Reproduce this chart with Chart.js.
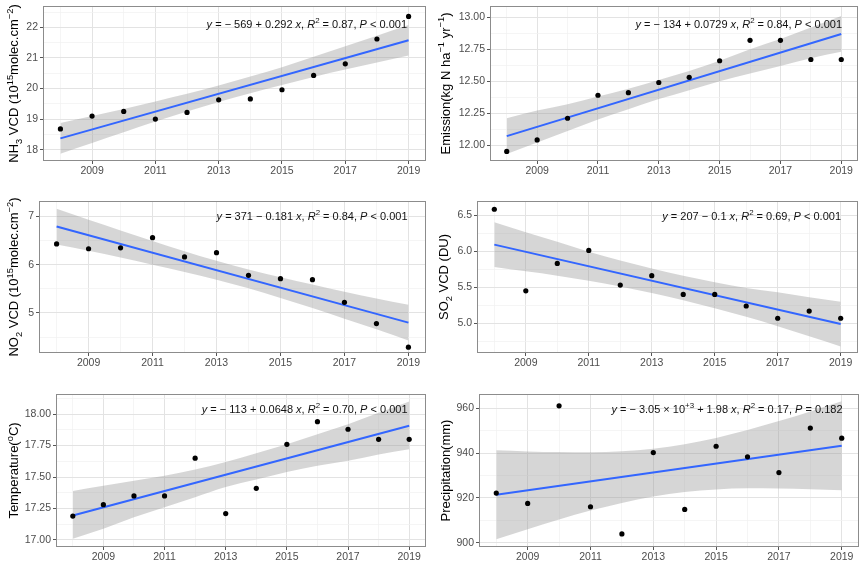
<!DOCTYPE html>
<html>
<head>
<meta charset="utf-8">
<script src="https://cdn.jsdelivr.net/npm/chart.js@4.4.1/dist/chart.umd.min.js"></script>
<style>
  body { margin: 0; background: #fff; }
  #wrap { position: relative; width: 865px; height: 564px; }
  canvas { position: absolute; }
</style>
</head>
<body>
<div id="wrap"></div>
<script>
const YEARS = [2008, 2009, 2010, 2011, 2012, 2013, 2014, 2015, 2016, 2017, 2018, 2019];
const FIT_X = [2008, 2019];
const X_MAJOR = [2009, 2011, 2013, 2015, 2017, 2019];
const X_MINOR = [2008, 2010, 2012, 2014, 2016, 2018];

const NH3 = [18.68, 19.10, 19.25, 19.00, 19.22, 19.63, 19.66, 19.96, 20.43, 20.81, 21.62, 22.36];
const NH3_FIT = [18.37, 21.58];
const NH3_UPPER = [18.87, 19.10, 19.33, 19.58, 19.83, 20.10, 20.39, 20.70, 21.04, 21.38, 21.73, 22.08];
const NH3_LOWER = [17.87, 18.22, 18.57, 18.92, 19.25, 19.56, 19.85, 20.12, 20.38, 20.62, 20.85, 21.08];

const EMIS = [11.95, 12.04, 12.21, 12.39, 12.41, 12.49, 12.53, 12.66, 12.82, 12.82, 12.67, 12.67];
const EMIS_FIT = [12.07, 12.87];
const EMIS_UPPER = [12.21, 12.27, 12.32, 12.38, 12.44, 12.51, 12.58, 12.66, 12.75, 12.83, 12.92, 13.01];
const EMIS_LOWER = [11.93, 12.02, 12.11, 12.20, 12.28, 12.36, 12.43, 12.50, 12.56, 12.62, 12.68, 12.73];

const NO2 = [6.43, 6.33, 6.35, 6.56, 6.16, 6.25, 5.78, 5.71, 5.69, 5.22, 4.78, 4.29];
const NO2_FIT = [6.79, 4.80];
const NO2_UPPER = [7.16, 6.93, 6.71, 6.49, 6.28, 6.08, 5.90, 5.74, 5.59, 5.44, 5.30, 5.17];
const NO2_LOWER = [6.42, 6.29, 6.15, 6.00, 5.85, 5.69, 5.51, 5.31, 5.10, 4.88, 4.66, 4.43];

const SO2 = [6.58, 5.45, 5.83, 6.01, 5.53, 5.66, 5.40, 5.40, 5.24, 5.07, 5.17, 5.07];
const SO2_FIT = [6.09, 4.99];
const SO2_UPPER = [6.40, 6.26, 6.13, 5.99, 5.87, 5.76, 5.66, 5.57, 5.49, 5.43, 5.36, 5.30];
const SO2_LOWER = [5.78, 5.72, 5.66, 5.59, 5.51, 5.42, 5.32, 5.21, 5.09, 4.96, 4.82, 4.68];

const TEMP = [17.19, 17.28, 17.35, 17.35, 17.65, 17.21, 17.41, 17.76, 17.94, 17.88, 17.80, 17.80];
const TEMP_FIT = [17.195, 17.908];
const TEMP_UPPER = [17.39, 17.43, 17.47, 17.51, 17.56, 17.62, 17.69, 17.76, 17.84, 17.92, 18.01, 18.10];
const TEMP_LOWER = [17.01, 17.09, 17.18, 17.26, 17.34, 17.42, 17.48, 17.54, 17.59, 17.63, 17.68, 17.72];

const PRECIP = [922.2, 917.6, 961.0, 916.1, 904.0, 940.2, 914.9, 943.0, 938.3, 931.3, 951.1, 946.6];
const PRECIP_FIT = [921.4, 943.2];
const PRECIP_UPPER = [941.2, 940.7, 940.4, 940.3, 940.8, 941.9, 943.9, 946.7, 950.2, 954.2, 958.5, 963.0];
const PRECIP_LOWER = [901.6, 906.1, 910.4, 914.4, 917.8, 920.7, 922.7, 923.8, 924.3, 924.2, 923.9, 923.4];

// rich text segments: [text, style] style: i = italic, sup, sub
const PANELS = [
  {
    box: [0, 0, 430, 185], area: [43, 6, 428, 161],
    yRange: [17.63, 22.70], yMajor: [18, 19, 20, 21, 22], yMinor: [18.5, 19.5, 20.5, 21.5, 22.5], dec: 0,
    values: NH3, fit: NH3_FIT, upper: NH3_UPPER, lower: NH3_LOWER,
    titleX: 13.5,
    title: [["NH"], ["3", "sub"], [" VCD (10"], ["15", "sup"], ["molec.cm"], ["\u22122", "sup"], [")"]],
    eqPos: [407, 28],
    eq: [["y", "i"], [" = \u2212 569 + 0.292 "], ["x", "i"], [", "], ["R", "i"], ["2", "sup"], [" = 0.87, "], ["P", "i"], [" < 0.001"]],
  },
  {
    box: [430, 0, 435, 185], area: [490, 6, 858, 161],
    yRange: [11.875, 13.089], yMajor: [12, 12.25, 12.5, 12.75, 13], yMinor: [12.125, 12.375, 12.625, 12.875], dec: 2,
    values: EMIS, fit: EMIS_FIT, upper: EMIS_UPPER, lower: EMIS_LOWER,
    titleX: 445,
    title: [["Emission(kg N ha"], ["\u22121", "sup"], [" yr"], ["\u22121", "sup"], [")"]],
    eqPos: [842, 28],
    eq: [["y", "i"], [" = \u2212 134 + 0.0729 "], ["x", "i"], [", "], ["R", "i"], ["2", "sup"], [" = 0.84, "], ["P", "i"], [" < 0.001"]],
  },
  {
    box: [0, 185, 430, 190], area: [39, 201, 428, 353],
    yRange: [4.17, 7.32], yMajor: [5, 6, 7], yMinor: [4.5, 5.5, 6.5], dec: 0,
    values: NO2, fit: NO2_FIT, upper: NO2_UPPER, lower: NO2_LOWER,
    titleX: 13.5,
    title: [["NO"], ["2", "sub"], [" VCD (10"], ["15", "sup"], ["molec.cm"], ["\u22122", "sup"], [")"]],
    eqPos: [407.5, 220],
    eq: [["y", "i"], [" = 371 \u2212 0.181 "], ["x", "i"], [", "], ["R", "i"], ["2", "sup"], [" = 0.84, "], ["P", "i"], [" < 0.001"]],
  },
  {
    box: [430, 185, 435, 190], area: [477, 201, 858, 353],
    yRange: [4.589, 6.694], yMajor: [5, 5.5, 6, 6.5], yMinor: [4.75, 5.25, 5.75, 6.25], dec: 1,
    values: SO2, fit: SO2_FIT, upper: SO2_UPPER, lower: SO2_LOWER,
    titleX: 443.5,
    title: [["SO"], ["2", "sub"], [" VCD (DU)"]],
    eqPos: [841, 220],
    eq: [["y", "i"], [" = 207 \u2212 0.1 "], ["x", "i"], [", "], ["R", "i"], ["2", "sup"], [" = 0.69, "], ["P", "i"], [" < 0.001"]],
  },
  {
    box: [0, 375, 430, 189], area: [56, 394, 428, 547],
    yRange: [16.944, 18.16], yMajor: [17, 17.25, 17.5, 17.75, 18], yMinor: [17.125, 17.375, 17.625, 17.875, 18.125], dec: 2,
    values: TEMP, fit: TEMP_FIT, upper: TEMP_UPPER, lower: TEMP_LOWER,
    titleX: 13.5,
    title: [["Temperature("], ["o", "sup"], ["C)"]],
    eqPos: [407.5, 412.5],
    eq: [["y", "i"], [" = \u2212 113 + 0.0648 "], ["x", "i"], [", "], ["R", "i"], ["2", "sup"], [" = 0.70, "], ["P", "i"], [" < 0.001"]],
  },
  {
    box: [430, 375, 435, 189], area: [479, 394, 859, 547],
    yRange: [898.2, 966.25], yMajor: [900, 920, 940, 960], yMinor: [910, 930, 950], dec: 0,
    values: PRECIP, fit: PRECIP_FIT, upper: PRECIP_UPPER, lower: PRECIP_LOWER,
    titleX: 445,
    title: [["Precipitation(mm)"]],
    eqPos: [842.5, 412.5],
    eq: [["y", "i"], [" = \u2212 3.05 \u00d7 10"], ["+3", "sup"], [" + 1.98 "], ["x", "i"], [", "], ["R", "i"], ["2", "sup"], [" = 0.17, "], ["P", "i"], [" = 0.182"]],
  },
];

const FONT = '"Liberation Sans", Arial, sans-serif';

function segFont(style, size) {
  const sz = style === "sup" || style === "sub" ? size * 0.72 : size;
  return (style === "i" ? "italic " : "") + sz + "px " + FONT;
}

function richWidth(ctx, segs, size) {
  let w = 0;
  for (const [t, s] of segs) {
    ctx.font = segFont(s, size);
    w += ctx.measureText(t).width;
  }
  return w;
}

function drawRich(ctx, segs, size, x, y) {
  ctx.textAlign = "left";
  ctx.textBaseline = "alphabetic";
  let cx = x;
  for (const [t, s] of segs) {
    ctx.font = segFont(s, size);
    const dy = s === "sup" ? -size * 0.42 : s === "sub" ? size * 0.28 : 0;
    ctx.fillText(t, cx, y + dy);
    cx += ctx.measureText(t).width;
  }
}

function near(list, v) {
  return list.some((m) => Math.abs(m - v) < 1e-6);
}

function makePanel(p, idx) {
  const [bx, by, bw, bh] = p.box;
  const [L, T, R, B] = p.area;
  const canvas = document.createElement("canvas");
  canvas.width = bw;
  canvas.height = bh;
  canvas.style.left = bx + "px";
  canvas.style.top = by + "px";
  canvas.style.width = bw + "px";
  canvas.style.height = bh + "px";
  document.getElementById("wrap").appendChild(canvas);

  const decor = {
    id: "decor" + idx,
    afterDraw(chart) {
      const ctx = chart.ctx;
      const a = chart.chartArea;
      ctx.save();
      ctx.strokeStyle = "#8c8c8c";
      ctx.lineWidth = 1;
      ctx.strokeRect(a.left + 0.5, a.top + 0.5, a.right - a.left - 1, a.bottom - a.top - 1);

      ctx.fillStyle = "#111";
      const ew = richWidth(ctx, p.eq, 11);
      drawRich(ctx, p.eq, 11, p.eqPos[0] - bx - ew, p.eqPos[1] - by);

      const tw = richWidth(ctx, p.title, 13);
      ctx.translate(p.titleX - bx + 4.5, (a.top + a.bottom) / 2);
      ctx.rotate(-Math.PI / 2);
      ctx.fillStyle = "#000";
      drawRich(ctx, p.title, 13, -tw / 2, 0);
      ctx.restore();
    },
  };

  const xTicks = [...X_MINOR, ...X_MAJOR].sort((a, b) => a - b);
  const yTicks = [...p.yMinor, ...p.yMajor].sort((a, b) => a - b);

  const gridOpts = (majors) => ({
    color: (c) => (c.tick && near(majors, c.tick.value) ? "#e3e3e3" : "#f0f0f0"),
    lineWidth: (c) => (c.tick && near(majors, c.tick.value) ? 1 : 0.7),
    tickColor: (c) => (c.tick && near(majors, c.tick.value) ? "#555" : "rgba(0,0,0,0)"),
    tickLength: 3,
    drawTicks: true,
  });

  new Chart(canvas, {
    type: "scatter",
    data: {
      datasets: [
        {
          data: YEARS.map((x, i) => ({ x, y: p.values[i] })),
          backgroundColor: "#000",
          borderWidth: 0,
          pointRadius: 2.6,
          clip: false,
          order: 0,
        },
        {
          data: FIT_X.map((x, i) => ({ x, y: p.fit[i] })),
          showLine: true,
          borderColor: "#3366ff",
          borderWidth: 2,
          pointRadius: 0,
          order: 1,
        },
        {
          data: YEARS.map((x, i) => ({ x, y: p.upper[i] })),
          showLine: true,
          borderWidth: 0,
          borderColor: "rgba(0,0,0,0)",
          pointRadius: 0,
          cubicInterpolationMode: "monotone",
          order: 2,
        },
        {
          data: YEARS.map((x, i) => ({ x, y: p.lower[i] })),
          showLine: true,
          borderWidth: 0,
          borderColor: "rgba(0,0,0,0)",
          backgroundColor: "rgba(153,153,153,0.4)",
          fill: "-1",
          pointRadius: 0,
          cubicInterpolationMode: "monotone",
          order: 3,
        },
      ],
    },
    options: {
      animation: false,
      responsive: false,
      devicePixelRatio: 1,
      events: [],
      layout: { padding: { left: 0, top: T - by, right: bx + bw - R, bottom: 0 } },
      plugins: { legend: { display: false }, tooltip: { enabled: false } },
      scales: {
        x: {
          type: "linear",
          min: 2007.45,
          max: 2019.55,
          border: { display: false },
          grid: gridOpts(X_MAJOR),
          afterBuildTicks: (s) => { s.ticks = xTicks.map((v) => ({ value: v })); },
          afterFit: (s) => {
            s.height = by + bh - B;
            s.paddingLeft = 0; s.paddingRight = 0;
          },
          ticks: {
            autoSkip: false,
            maxRotation: 0,
            padding: 1,
            color: "#4d4d4d",
            font: { family: FONT, size: 10.5 },
            callback: (v) => (near(X_MAJOR, v) ? String(v) : ""),
          },
        },
        y: {
          type: "linear",
          min: p.yRange[0],
          max: p.yRange[1],
          border: { display: false },
          grid: gridOpts(p.yMajor),
          afterBuildTicks: (s) => { s.ticks = yTicks.map((v) => ({ value: v })); },
          afterFit: (s) => {
            s.width = L - bx;
            s.paddingTop = 0; s.paddingBottom = 0;
          },
          ticks: {
            autoSkip: false,
            padding: 2,
            color: "#4d4d4d",
            font: { family: FONT, size: 10.5 },
            callback: (v) => (near(p.yMajor, v) ? v.toFixed(p.dec) : ""),
          },
        },
      },
    },
    plugins: [decor],
  });
}

PANELS.forEach(makePanel);
</script>
</body>
</html>
